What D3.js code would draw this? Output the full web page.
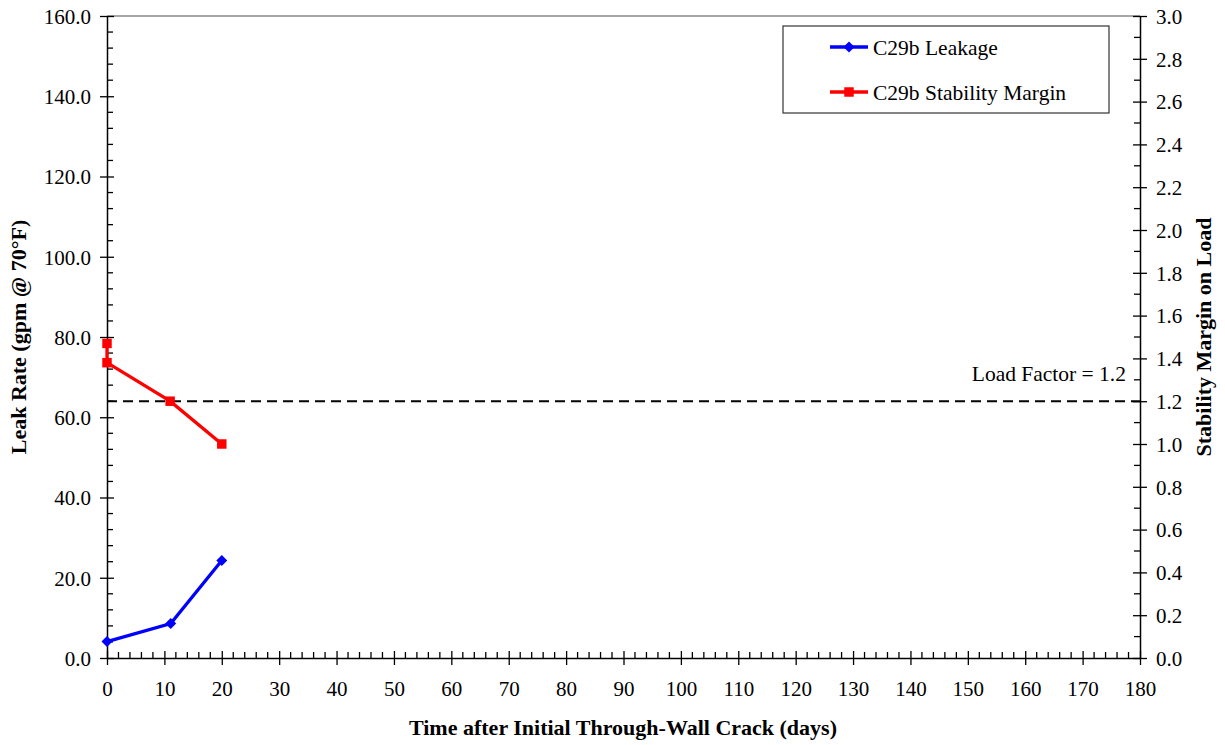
<!DOCTYPE html>
<html><head><meta charset="utf-8">
<script src="https://cdn.jsdelivr.net/npm/d3@7"></script>
<style>body{margin:0;background:#fff}</style>
</head><body><svg id="c" width="1225" height="745" style="font-family:'Liberation Serif','Times New Roman',serif"></svg>
<script>
const leakDays = [0, 11.1, 20];
const leakRate = [4.1, 8.6, 24.3];
const marginDays = [0, 0, 11, 20];
const marginVals = [1.47, 1.38, 1.20, 1.00];
const loadFactor = 1.2;
const xTicks = d3.range(0, 181, 10);
const yLeftTicks = d3.range(0, 161, 20);
const yRightTicks = d3.range(0, 3.01, 0.2);
const seriesNames = ["C29b Leakage", "C29b Stability Margin"];
const seriesColors = ["#0000ff", "#ff0000"];

const FONT = "'Liberation Serif','Times New Roman',serif";
const L = 107, R = 1140, T = 16, B = 658;
const svg = d3.select("#c");
const x = d3.scaleLinear().domain([0, 180]).range([L, R]);
const yl = d3.scaleLinear().domain([0, 160]).range([B, T]);
const yr = d3.scaleLinear().domain([0, 3]).range([B, T]);

svg.append("line").attr("x1", L).attr("x2", R).attr("y1", T).attr("y2", T).attr("stroke", "#888").attr("stroke-width", 1.5);

const fs = "21.5px";
const gm = svg.append("g").attr("stroke", "#000").attr("stroke-width", 1.3);
d3.range(0, 181, 2).filter(v => v % 10 !== 0).forEach(v => gm.append("line").attr("x1", x(v)).attr("x2", x(v)).attr("y1", B).attr("y2", B - 6));
d3.range(0, 161, 4).filter(v => v % 20 !== 0).forEach(v => gm.append("line").attr("x1", L).attr("x2", L + 6).attr("y1", yl(v)).attr("y2", yl(v)));
d3.range(0.1, 3, 0.2).forEach(v => gm.append("line").attr("x1", R).attr("x2", R - 6).attr("y1", yr(v)).attr("y2", yr(v)));

const ax = d3.axisBottom(x).tickValues(xTicks).tickFormat(d3.format("d")).tickSizeInner(7).tickSizeOuter(0).tickPadding(16);
const gx = svg.append("g").attr("transform", `translate(0,${B})`).call(ax);
const ayl = d3.axisLeft(yl).tickValues(yLeftTicks).tickFormat(d3.format(".1f")).tickSizeInner(7).tickSizeOuter(0).tickPadding(9);
const gyl = svg.append("g").attr("transform", `translate(${L},0)`).call(ayl);
const ayr = d3.axisRight(yr).tickValues(yRightTicks).tickFormat(d3.format(".1f")).tickSizeInner(7).tickSizeOuter(0).tickPadding(9);
const gyr = svg.append("g").attr("transform", `translate(${R},0)`).call(ayr);
[gx, gyl, gyr].forEach(g => {
  g.attr("font-family", FONT).attr("font-size", 21);
  g.selectAll("path.domain").attr("stroke", "#000").attr("stroke-width", 1.5);
  g.selectAll(".tick text").style("font-family", FONT).style("font-size", "21px").attr("fill", "#000");
});
gx.selectAll(".tick line").attr("y1", -7).attr("y2", 7).attr("stroke-width", 1.3);
gyl.selectAll(".tick line").attr("x1", -7).attr("x2", 7).attr("stroke-width", 1.3);
gyr.selectAll(".tick line").attr("x1", -7).attr("x2", 7).attr("stroke-width", 1.3);
gx.selectAll(".tick text").attr("dy", "0.71em");
gyl.selectAll(".tick text").attr("dy", "0.35em");
gyr.selectAll(".tick text").attr("dy", "0.35em");

function txt(sel) { return sel.style("font-family", FONT).attr("fill", "#000"); }

svg.append("line").attr("x1", L).attr("x2", R).attr("y1", yr(loadFactor)).attr("y2", yr(loadFactor))
  .attr("stroke", "#000").attr("stroke-width", 2).attr("stroke-dasharray", "10,6");
txt(svg.append("text")).attr("x", 1126).attr("y", yr(loadFactor) - 20).attr("text-anchor", "end")
  .style("font-size", fs).text("Load Factor = " + loadFactor.toFixed(1));

const leakPts = leakDays.map((d, i) => [x(d), yl(leakRate[i])]);
const margPts = marginDays.map((d, i) => [x(d), yr(marginVals[i])]);
svg.append("path").attr("d", d3.line()(leakPts)).attr("fill", "none").attr("stroke", seriesColors[0]).attr("stroke-width", 3.3);
svg.append("path").attr("d", d3.line()(margPts)).attr("fill", "none").attr("stroke", seriesColors[1]).attr("stroke-width", 3.3);
const diamond = d3.symbol().type(d3.symbolSquare).size(60);
const square = d3.symbol().type(d3.symbolSquare).size(90);
svg.selectAll(".dm").data(leakPts).join("path").attr("transform", d => `translate(${d[0]},${d[1]}) rotate(45)`).attr("d", diamond).attr("fill", seriesColors[0]);
svg.selectAll(".sq").data(margPts).join("path").attr("transform", d => `translate(${d[0]},${d[1]})`).attr("d", square).attr("fill", seriesColors[1]);

svg.append("rect").attr("x", 783).attr("y", 26).attr("width", 326).attr("height", 87).attr("fill", "#fff").attr("stroke", "#333").attr("stroke-width", 1.2);
const sym = [diamond, square];
const rot = [45, 0];
seriesNames.forEach((n, i) => {
  const yy = 47 + i * 45;
  svg.append("line").attr("x1", 830).attr("x2", 868).attr("y1", yy).attr("y2", yy).attr("stroke", seriesColors[i]).attr("stroke-width", 3.3);
  svg.append("path").attr("transform", `translate(849,${yy}) rotate(${rot[i]})`).attr("d", sym[i]).attr("fill", seriesColors[i]);
  txt(svg.append("text")).attr("x", 873).attr("y", yy).attr("dy", "0.35em").style("font-size", fs).text(n);
});

txt(svg.append("text")).attr("x", 623).attr("y", 735).attr("text-anchor", "middle").style("font-size", "22px").style("font-weight", "bold")
  .text("Time after Initial Through-Wall Crack (days)");
txt(svg.append("text")).attr("transform", "translate(26,337) rotate(-90)").attr("text-anchor", "middle").style("font-size", "22px").style("font-weight", "bold")
  .text("Leak Rate (gpm @ 70°F)");
txt(svg.append("text")).attr("transform", "translate(1211,337) rotate(-90)").attr("text-anchor", "middle").style("font-size", "22px").style("font-weight", "bold")
  .text("Stability Margin on Load");
</script></body></html>
